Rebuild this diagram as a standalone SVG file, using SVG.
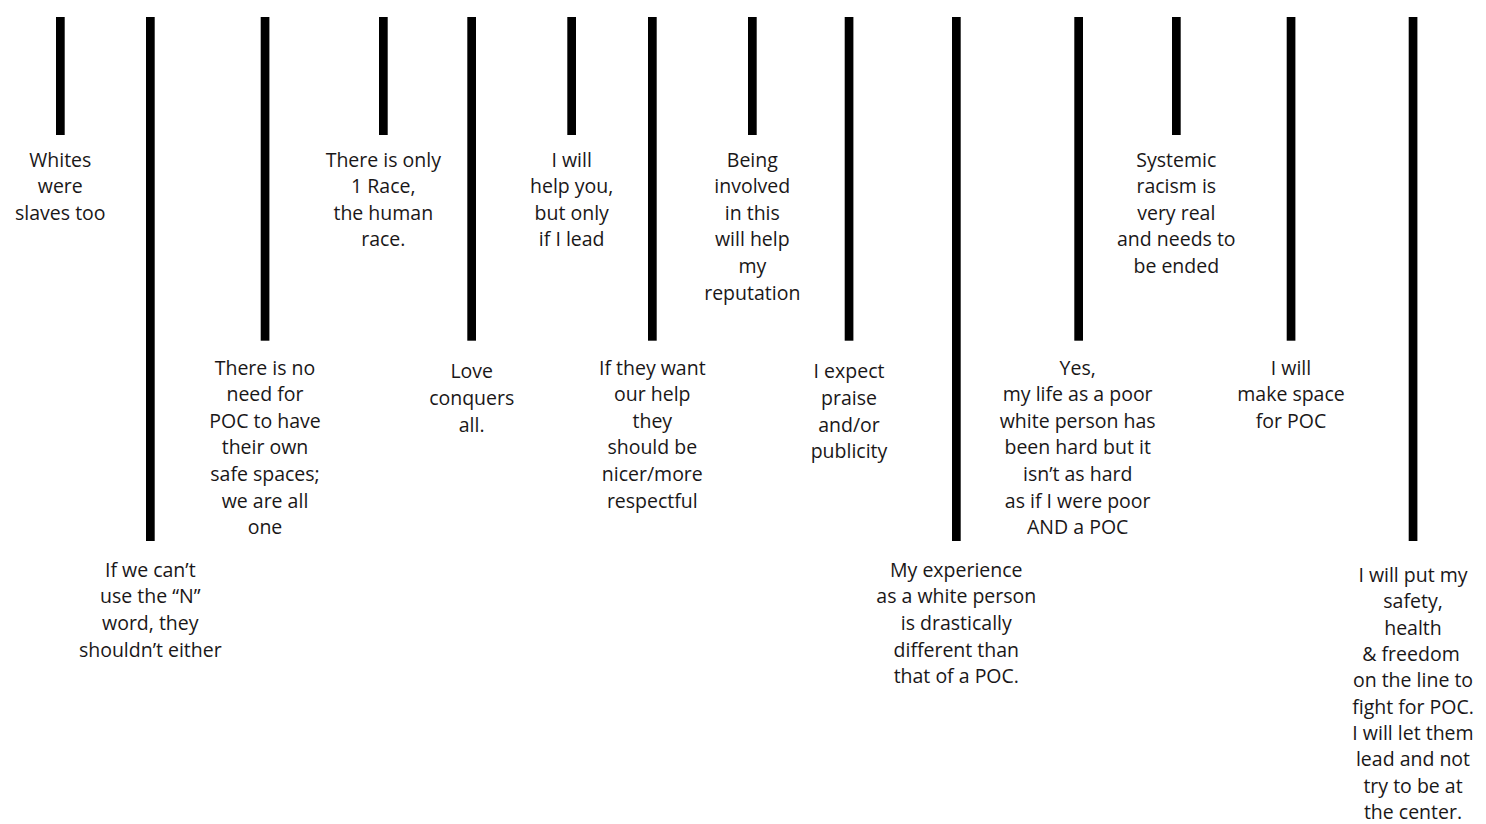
<svg xmlns="http://www.w3.org/2000/svg" width="1486" height="824" viewBox="0 0 1486 824">
<style>
.bar{fill:#000}
.lbl{font-family:"Open Sans","Liberation Sans",Arial,sans-serif;font-size:19.5px;text-anchor:middle;fill:#1a1718}
</style>
<rect width="1486" height="824" fill="#fff"/>
<g id="connectors"/>
<g id="n1"><rect class="bar" x="56" y="17" width="8.7" height="118"/>
<text class="lbl" y="166.5"><tspan x="60.3">Whites</tspan><tspan x="60.3" dy="26.6">were</tspan><tspan x="60.3" dy="26.6">slaves too</tspan></text></g>
<g id="n2"><rect class="bar" x="146" y="17" width="8.7" height="524"/>
<text class="lbl" y="576.7"><tspan x="150.3">If we can’t</tspan><tspan x="150.3" dy="26.6">use the “N”</tspan><tspan x="150.3" dy="26.6">word, they</tspan><tspan x="150.3" dy="26.6">shouldn’t either</tspan></text></g>
<g id="n3"><rect class="bar" x="260.7" y="17" width="8.7" height="323.7"/>
<text class="lbl" y="374.5"><tspan x="265">There is no</tspan><tspan x="265" dy="26.6">need for</tspan><tspan x="265" dy="26.6">POC to have</tspan><tspan x="265" dy="26.6">their own</tspan><tspan x="265" dy="26.6">safe spaces;</tspan><tspan x="265" dy="26.6">we are all</tspan><tspan x="265" dy="26.6">one</tspan></text></g>
<g id="n4"><rect class="bar" x="379" y="17" width="8.7" height="118"/>
<text class="lbl" y="166.5"><tspan x="383.3">There is only</tspan><tspan x="383.3" dy="26.6">1 Race,</tspan><tspan x="383.3" dy="26.6">the human</tspan><tspan x="383.3" dy="26.6">race.</tspan></text></g>
<g id="n5"><rect class="bar" x="467.3" y="17" width="8.7" height="323.7"/>
<text class="lbl" y="378.3"><tspan x="471.7">Love</tspan><tspan x="471.7" dy="26.6">conquers</tspan><tspan x="471.7" dy="26.6">all.</tspan></text></g>
<g id="n6"><rect class="bar" x="567.3" y="17" width="8.7" height="118"/>
<text class="lbl" y="166.5"><tspan x="571.7">I will</tspan><tspan x="571.7" dy="26.6">help you,</tspan><tspan x="571.7" dy="26.6">but only</tspan><tspan x="571.7" dy="26.6">if I lead</tspan></text></g>
<g id="n7"><rect class="bar" x="648" y="17" width="8.7" height="323.7"/>
<text class="lbl" y="374.5"><tspan x="652.3">If they want</tspan><tspan x="652.3" dy="26.6">our help</tspan><tspan x="652.3" dy="26.6">they</tspan><tspan x="652.3" dy="26.6">should be</tspan><tspan x="652.3" dy="26.6">nicer/more</tspan><tspan x="652.3" dy="26.6">respectful</tspan></text></g>
<g id="n8"><rect class="bar" x="748" y="17" width="8.7" height="118"/>
<text class="lbl" y="166.5"><tspan x="752.3">Being</tspan><tspan x="752.3" dy="26.6">involved</tspan><tspan x="752.3" dy="26.6">in this</tspan><tspan x="752.3" dy="26.6">will help</tspan><tspan x="752.3" dy="26.6">my</tspan><tspan x="752.3" dy="26.6">reputation</tspan></text></g>
<g id="n9"><rect class="bar" x="844.7" y="17" width="8.7" height="323.7"/>
<text class="lbl" y="378.3"><tspan x="849">I expect</tspan><tspan x="849" dy="26.6">praise</tspan><tspan x="849" dy="26.6">and/or</tspan><tspan x="849" dy="26.6">publicity</tspan></text></g>
<g id="n10"><rect class="bar" x="952" y="17" width="8.7" height="524"/>
<text class="lbl" y="576.7"><tspan x="956.3">My experience</tspan><tspan x="956.3" dy="26.6">as a white person</tspan><tspan x="956.3" dy="26.6">is drastically</tspan><tspan x="956.3" dy="26.6">different than</tspan><tspan x="956.3" dy="26.6">that of a POC.</tspan></text></g>
<g id="n11"><rect class="bar" x="1074.3" y="17" width="8.7" height="323.7"/>
<text class="lbl" y="374.5"><tspan x="1077.7">Yes,</tspan><tspan x="1077.7" dy="26.6">my life as a poor</tspan><tspan x="1077.7" dy="26.6">white person has</tspan><tspan x="1077.7" dy="26.6">been hard but it</tspan><tspan x="1077.7" dy="26.6">isn’t as hard</tspan><tspan x="1077.7" dy="26.6">as if I were poor</tspan><tspan x="1077.7" dy="26.6">AND a POC</tspan></text></g>
<g id="n12"><rect class="bar" x="1172" y="17" width="8.7" height="118"/>
<text class="lbl" y="166.5"><tspan x="1176.3">Systemic</tspan><tspan x="1176.3" dy="26.6">racism is</tspan><tspan x="1176.3" dy="26.6">very real</tspan><tspan x="1176.3" dy="26.6">and needs to</tspan><tspan x="1176.3" dy="26.6">be ended</tspan></text></g>
<g id="n13"><rect class="bar" x="1286.7" y="17" width="8.7" height="323.7"/>
<text class="lbl" y="374.5"><tspan x="1291">I will</tspan><tspan x="1291" dy="26.6">make space</tspan><tspan x="1291" dy="26.6">for POC</tspan></text></g>
<g id="n14"><rect class="bar" x="1408.7" y="17" width="8.7" height="524"/>
<text class="lbl" y="582"><tspan x="1413">I will put my</tspan><tspan x="1413" dy="26.35">safety,</tspan><tspan x="1413" dy="26.35">health</tspan><tspan x="1411" dy="26.35">&amp; freedom</tspan><tspan x="1413" dy="26.35">on the line to</tspan><tspan x="1413" dy="26.35">fight for POC.</tspan><tspan x="1413" dy="26.35">I will let them</tspan><tspan x="1413" dy="26.35">lead and not</tspan><tspan x="1413" dy="26.35">try to be at</tspan><tspan x="1413" dy="26.35">the center.</tspan></text></g>
</svg>
